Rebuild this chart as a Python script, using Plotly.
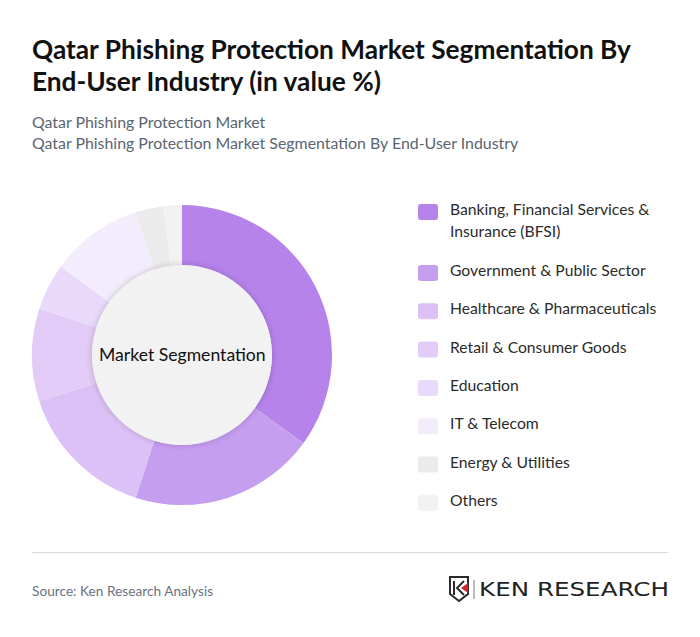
import plotly.graph_objects as go

W, H = 700, 637

# Segment shares
segments = ['Banking, Financial Services &<br>Insurance (BFSI)', 'Government & Public Sector',
            'Healthcare & Pharmaceuticals', 'Retail & Consumer Goods', 'Education',
            'IT & Telecom', 'Energy & Utilities', 'Others']
shares = [35, 20, 15, 10, 5, 10, 3, 2]
colors = ['#b683ea', '#c69ef0', '#dcc1f6', '#e2ccf7', '#e9d9fa', '#f3ecfc', '#ebebeb', '#f2f2f2']

title_lines = ['Qatar Phishing Protection Market Segmentation By', 'End-User Industry (in value %)']
subtitle_lines = ['Qatar Phishing Protection Market', 'Qatar Phishing Protection Market Segmentation By End-User Industry']
source_text = 'Source: Ken Research Analysis'


def fx(x):
    return x / W


def fy(y):
    return 1 - y / H


def text(x, y, s, size, color, weight=400, anchor='left', family='Lato'):
    fig.add_annotation(x=fx(x), y=fy(y), xref='paper', yref='paper', text=s, showarrow=False,
                       xanchor=anchor, yanchor='middle', align='left', borderpad=0,
                       font=dict(family=family, size=size, color=color, weight=weight))


def box(x0, y0, x1, y1, color):
    r = 3
    path = (f'M{fx(x0 + r)},{fy(y0)} L{fx(x1 - r)},{fy(y0)} Q{fx(x1)},{fy(y0)} {fx(x1)},{fy(y0 + r)} '
            f'L{fx(x1)},{fy(y1 - r)} Q{fx(x1)},{fy(y1)} {fx(x1 - r)},{fy(y1)} '
            f'L{fx(x0 + r)},{fy(y1)} Q{fx(x0)},{fy(y1)} {fx(x0)},{fy(y1 - r)} '
            f'L{fx(x0)},{fy(y0 + r)} Q{fx(x0)},{fy(y0)} {fx(x0 + r)},{fy(y0)} Z')
    fig.add_shape(type='path', path=path, xref='paper', yref='paper',
                  fillcolor=color, line_width=0)


def circle(cx, cy, r, color, opacity=1):
    fig.add_shape(type='circle', xref='paper', yref='paper', x0=fx(cx - r), x1=fx(cx + r),
                  y0=fy(cy + r), y1=fy(cy - r), fillcolor=color, opacity=opacity, line_width=0)


fig = go.Figure(go.Pie(labels=[s.replace('<br>', ' ') for s in segments], values=shares,
                       marker=dict(colors=colors, line=dict(width=0)),
                       hole=0.6, sort=False, direction='clockwise', rotation=0,
                       textinfo='none', hoverinfo='label+percent', showlegend=False,
                       domain=dict(x=[fx(32), fx(332)], y=[fy(505), fy(205)])))

# centre disc with a soft shadow
for r, op in [(96, 0.012), (94, 0.02), (92.5, 0.025), (91, 0.03)]:
    circle(182, 355, r, '#000000', op)
circle(182, 355, 90, '#f2f2f2')
text(182, 354.5, 'Market Segmentation', 17.6, '#111111', anchor='center')

for i, line in enumerate(title_lines):
    text(31, 49 + i * 32, line, 26.26, '#111111', weight=700)
for i, line in enumerate(subtitle_lines):
    text(31, 121 + i * 21.5, line, 15.9, '#5b6472')

# legend, the first entry takes two lines
row_y = 212
for i, (label, color) in enumerate(zip(segments, colors)):
    box(418, row_y - 8, 438, row_y + 8, color)
    if '<br>' in label:
        for j, part in enumerate(label.split('<br>')):
            text(449, row_y - 3 + j * 21.5, part, 15.7, '#2b2b2b')
        row_y += 61
    else:
        text(449, row_y - 3, label, 15.7, '#2b2b2b')
        row_y += 38.3

fig.add_shape(type='line', xref='paper', yref='paper', x0=fx(32), x1=fx(668), y0=fy(552.5), y1=fy(552.5),
              line=dict(color='#d9d9d9', width=1))
text(31, 590, source_text, 13.7, '#6b7280')

# logo: shield mark, divider, wordmark
shield = [(450, 577), (468, 577), (468, 594), (459, 601), (450, 594)]
fig.add_shape(type='path', xref='paper', yref='paper', line=dict(color='#2b2b2b', width=2), fillcolor='white',
              path='M' + ' L'.join(f'{fx(x)},{fy(y)}' for x, y in shield) + ' Z')
fig.add_shape(type='path', xref='paper', yref='paper', line=dict(color='#2b2b2b', width=2),
              path=f'M{fx(454)},{fy(581)} L{fx(454)},{fy(595)} M{fx(464)},{fy(581)} L{fx(457)},{fy(588)} L{fx(464)},{fy(595)}')
fig.add_shape(type='path', xref='paper', yref='paper', fillcolor='#d2232a', line_width=0,
              path=f'M{fx(468)},{fy(583)} L{fx(461)},{fy(588)} L{fx(468)},{fy(593)} Z')
fig.add_shape(type='line', xref='paper', yref='paper', x0=fx(474), x1=fx(474), y0=fy(580), y1=fy(599),
              line=dict(color='#777777', width=1))
text(478, 589, 'KEN RESEARCH', 19, '#222222', family='DejaVu Sans')

fig.update_layout(width=W, height=H, margin=dict(l=0, r=0, t=0, b=0),
                  paper_bgcolor='white', plot_bgcolor='white', showlegend=False)

# page margin off, wordmark stretched to the logo width
post = """
document.body.style.margin = '0';
document.querySelectorAll('.annotation-text').forEach(function (t) {
  if (t.textContent === 'KEN RESEARCH') {
    t.setAttribute('textLength', '190');
    t.setAttribute('lengthAdjust', 'spacingAndGlyphs');
  }
});
"""
fig.write_html("out.html", post_script=post, config=dict(displayModeBar=False))
